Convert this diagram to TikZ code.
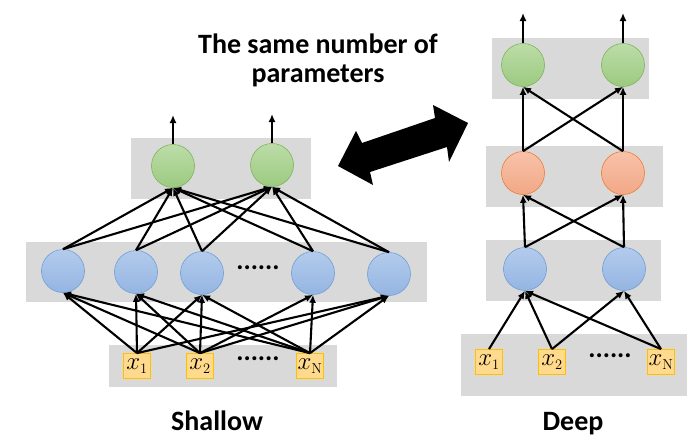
\documentclass[tikz,border=0pt]{standalone}
\usepackage[no-math]{fontspec}
\setmainfont{Carlito}
\usetikzlibrary{arrows.meta}

\definecolor{panel}{HTML}{D9D9D9}
\definecolor{hidtop}{HTML}{B3CBEC}
\definecolor{hidbot}{HTML}{94B5E2}
\definecolor{hidline}{HTML}{6E9FD6}
\definecolor{outtop}{HTML}{BCDCA8}
\definecolor{outbot}{HTML}{9CCA80}
\definecolor{outline}{HTML}{7DB55A}
\definecolor{midtop}{HTML}{F7C2AA}
\definecolor{midbot}{HTML}{F2A886}
\definecolor{midline}{HTML}{ED7D31}
\definecolor{inpfill}{HTML}{FFD98C}
\definecolor{inpline}{HTML}{FFC000}

\begin{document}
\begin{tikzpicture}[x=1pt, y=-1pt,
                    neuron/.style={circle, minimum size=43pt, inner sep=0, line width=0.6pt},
                    hidnode/.style={neuron, draw=hidline, top color=hidtop, bottom color=hidbot},
                    midnode/.style={neuron, draw=midline, top color=midtop, bottom color=midbot},
                    outnode/.style={neuron, draw=outline, top color=outtop, bottom color=outbot},
                    inpnode/.style={draw=inpline, fill=inpfill, line width=0.8pt, minimum width=27pt,
                                minimum height=25pt, inner sep=0, font=\fontsize{27}{27}\selectfont},
                    conn/.style={-{Latex[length=8pt,width=7pt]}, line width=2.1pt},
                    dots/.style={font=\fontsize{27}{27}\bfseries\selectfont},
                    caption/.style={font=\fontsize{28}{29}\bfseries\selectfont, align=center}]
                \useasboundingbox (0,0) rectangle (692,445);

                \fill[panel] (131,138) rectangle (311,199);
                \fill[panel] (26,242) rectangle (427,302);
                \fill[panel] (109,345) rectangle (337,387);

                \node[outnode] (o1) at (173,166) {};
                \node[outnode] (o2) at (272,165) {};
                \coordinate (o1top) at (173,115);
                \coordinate (o2top) at (272,114);

                \node[hidnode] (h1) at (63,271) {};
                \node[hidnode] (h2) at (136,272) {};
                \node[hidnode] (h3) at (202,273) {};
                \node[dots] (hdots) at (258,268) {......};
                \node[hidnode] (h4) at (313,273) {};
                \node[hidnode] (h5) at (389,274) {};

                \node[inpnode] (x1) at (137,366) {$x_{\scriptscriptstyle 1}$};
                \node[inpnode] (x2) at (200,366) {$x_{\scriptscriptstyle 2}$};
                \node[dots] (xdots) at (258,359) {......};
                \node[inpnode] (xn) at (310,366) {$x_{\scriptscriptstyle\mathrm{N}}$};

                \draw[conn] (o1.north) -- (o1top);
                \draw[conn] (o2.north) -- (o2top);

                \draw[conn] (h1.north) -- (o1.south);
                \draw[conn] (h1.north) -- (o2.south);
                \draw[conn] (h2.north) -- (o1.south);
                \draw[conn] (h2.north) -- (o2.south);
                \draw[conn] (h3.north) -- (o1.south);
                \draw[conn] (h3.north) -- (o2.south);
                \draw[conn] (h4.north) -- (o1.south);
                \draw[conn] (h4.north) -- (o2.south);
                \draw[conn] (h5.north) -- (o1.south);
                \draw[conn] (h5.north) -- (o2.south);

                \draw[conn] (x1.north) -- (h1.south);
                \draw[conn] (x1.north) -- (h2.south);
                \draw[conn] (x1.north) -- (h3.south);
                \draw[conn] (x1.north) -- (h5.south);
                \draw[conn] (x2.north) -- (h1.south);
                \draw[conn] (x2.north) -- (h2.south);
                \draw[conn] (x2.north) -- (h3.south);
                \draw[conn] (x2.north) -- (h4.south);
                \draw[conn] (x2.north) -- (h5.south);
                \draw[conn] (xn.north) -- (h1.south);
                \draw[conn] (xn.north) -- (h2.south);
                \draw[conn] (xn.north) -- (h3.south);
                \draw[conn] (xn.north) -- (h4.south);
                \draw[conn] (xn.north) -- (h5.south);

                \node[caption, anchor=base] (shallow) at (217,430) {Shallow};

                \fill[panel] (492,38) rectangle (649,99);
                \fill[panel] (486,146) rectangle (663,207);
                \fill[panel] (486,240) rectangle (661,301);
                \fill[panel] (461,334) rectangle (687,396);

                \node[outnode] (g1) at (523,65) {};
                \node[outnode] (g2) at (623,65) {};
                \coordinate (g1top) at (523,13);
                \coordinate (g2top) at (623,13);

                \node[midnode] (r1) at (523,173) {};
                \node[midnode] (r2) at (623,173) {};

                \node[hidnode] (d1) at (525,269) {};
                \node[hidnode] (d2) at (624,269) {};

                \node[inpnode] (dx1) at (489,362) {$x_{\scriptscriptstyle 1}$};
                \node[inpnode] (dx2) at (552,362) {$x_{\scriptscriptstyle 2}$};
                \node[dots] (dxdots) at (610,356) {......};
                \node[inpnode] (dxn) at (661,362) {$x_{\scriptscriptstyle\mathrm{N}}$};

                \draw[conn] (g1.north) -- (g1top);
                \draw[conn] (g2.north) -- (g2top);

                \draw[conn] (r1.north) -- (g1.south);
                \draw[conn] (r1.north) -- (g2.south);
                \draw[conn] (r2.north) -- (g1.south);
                \draw[conn] (r2.north) -- (g2.south);

                \draw[conn] (d1.north) -- (r1.south);
                \draw[conn] (d1.north) -- (r2.south);
                \draw[conn] (d2.north) -- (r1.south);
                \draw[conn] (d2.north) -- (r2.south);

                \draw[conn] (dx1.north) -- (d1.south);
                \draw[conn] (dx2.north) -- (d1.south);
                \draw[conn] (dx2.north) -- (d2.south);
                \draw[conn] (dxn.north) -- (d1.south);
                \draw[conn] (dxn.north) -- (d2.south);

                \node[caption, anchor=base] (deep) at (573,430) {Deep};

                \node[caption] (same) at (318,60) {The same number of\\parameters};
                \fill (338,166) -- (356,131) -- (362,143) -- (435,118) -- (433,105)
                      -- (468,123) -- (449,162) -- (447,147) -- (370,172) -- (373,185) -- cycle;
            \end{tikzpicture}
\end{document}
